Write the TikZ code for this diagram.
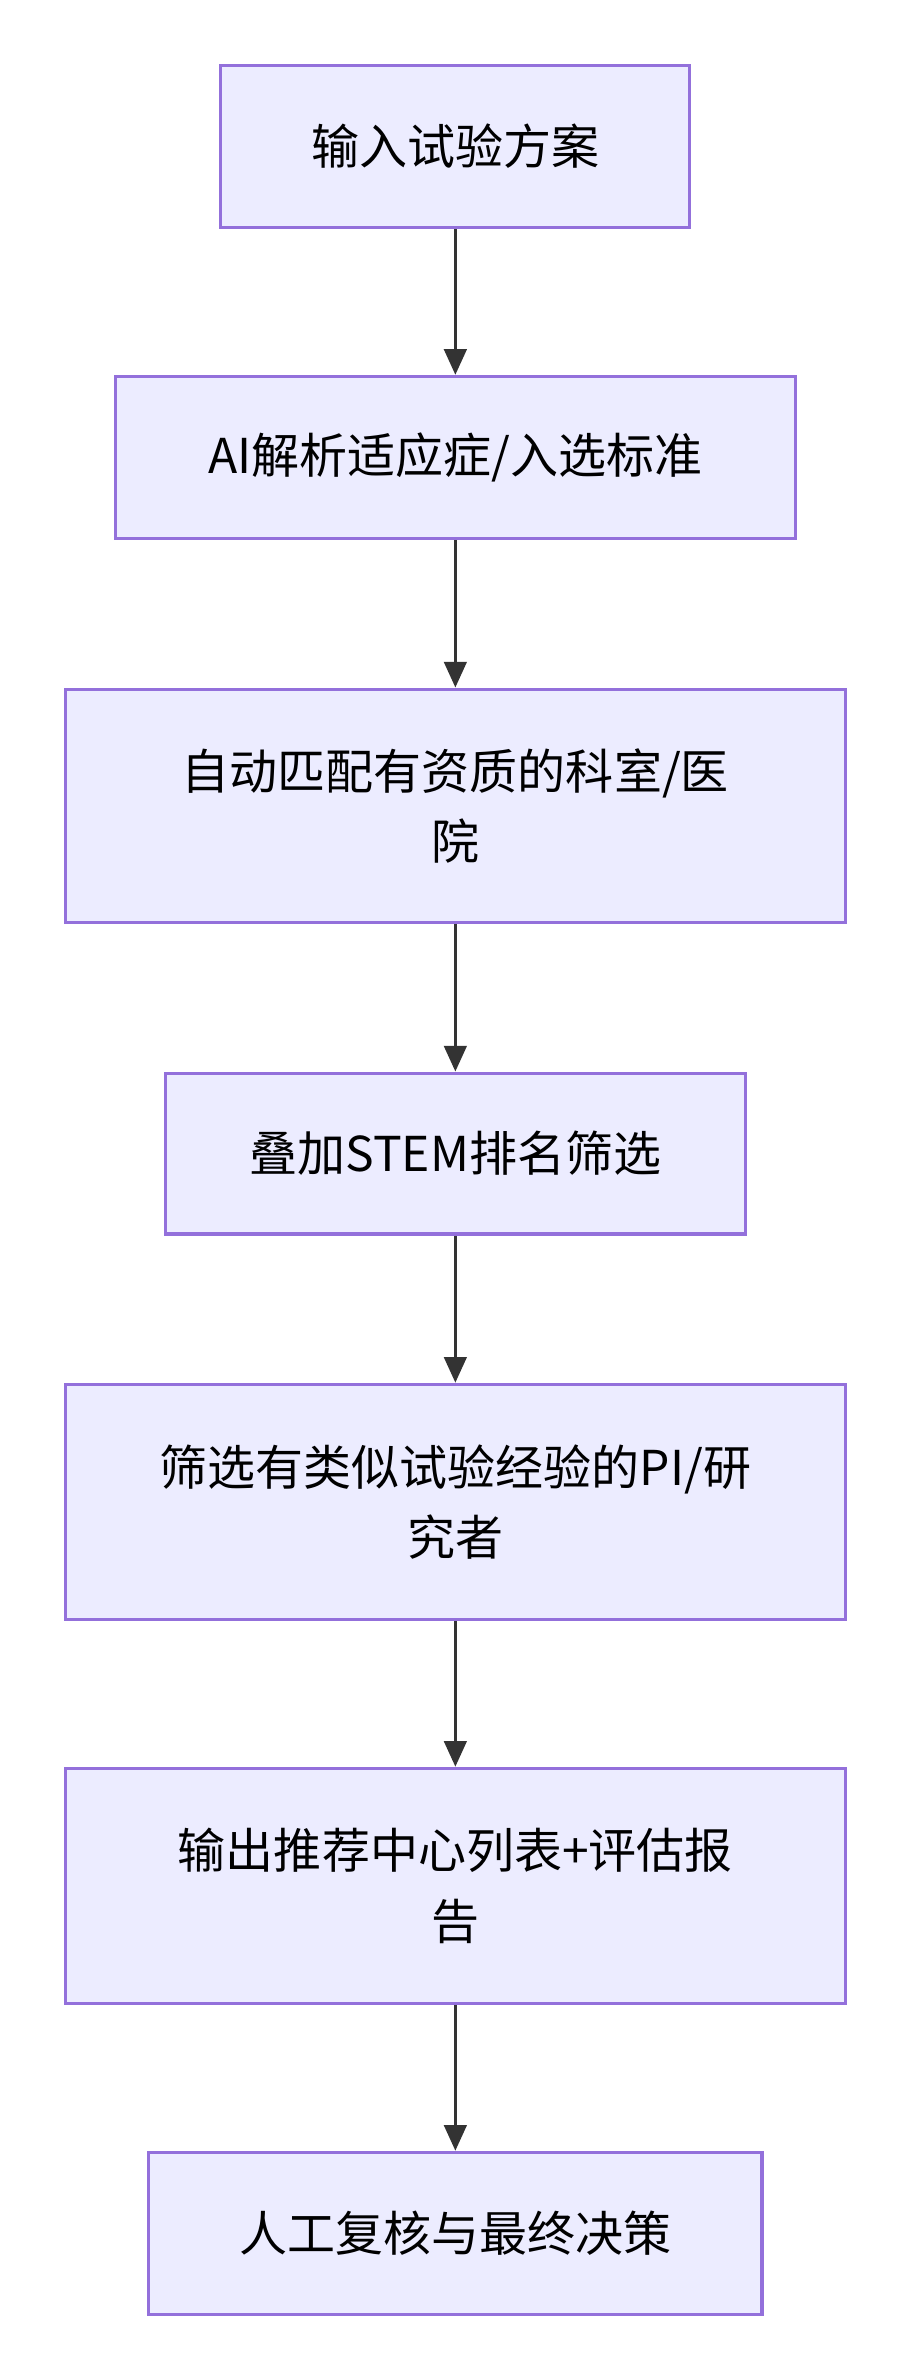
\documentclass[tikz,border=0pt]{standalone}
\usepackage{fontspec}
\setmainfont{Noto Sans CJK SC}
\usetikzlibrary{positioning, arrows.meta}
\definecolor{boxfill}{HTML}{ECECFF}
\definecolor{boxline}{HTML}{9370DB}
\definecolor{linkcol}{HTML}{333333}
\tikzset{
    flowbox/.style={draw=boxline, fill=boxfill, line width=1pt, align=center,
      font=\fontsize{15}{22}\selectfont, inner sep=0pt},
    link/.style={-{Triangle[length=8pt,width=7pt]}, draw=linkcol, fill=linkcol, line width=1pt},
}
\begin{document}
\begin{tikzpicture}[x=1cm/60, y=1cm/60]
    \useasboundingbox (0,0) rectangle (600,-1568);

    \node[flowbox, minimum width=309/60*1cm, minimum height=107/60*1cm] (input) at (300,-96.5) {输入试验方案};
    \node[flowbox, minimum width=448/60*1cm, minimum height=107/60*1cm] (parse) at (300,-301.5) {AI解析适应症/入选标准};
    \node[flowbox, minimum width=514/60*1cm, minimum height=154/60*1cm] (match) at (300,-531) {自动匹配有资质的科室/医\\院};
    \node[flowbox, minimum width=382/60*1cm, minimum height=106/60*1cm] (stem) at (300,-760) {叠加STEM排名筛选};
    \node[flowbox, minimum width=514/60*1cm, minimum height=155/60*1cm] (pi) at (300,-989.5) {筛选有类似试验经验的PI/研\\究者};
    \node[flowbox, minimum width=514/60*1cm, minimum height=155/60*1cm] (output) at (300,-1242.5) {输出推荐中心列表+评估报\\告};
    \node[flowbox, minimum width=404/60*1cm, minimum height=107/60*1cm] (review) at (300,-1471.5) {人工复核与最终决策};

    \draw[link] (input) -- (parse);
    \draw[link] (parse) -- (match);
    \draw[link] (match) -- (stem);
    \draw[link] (stem) -- (pi);
    \draw[link] (pi) -- (output);
    \draw[link] (output) -- (review);
\end{tikzpicture}
\end{document}
